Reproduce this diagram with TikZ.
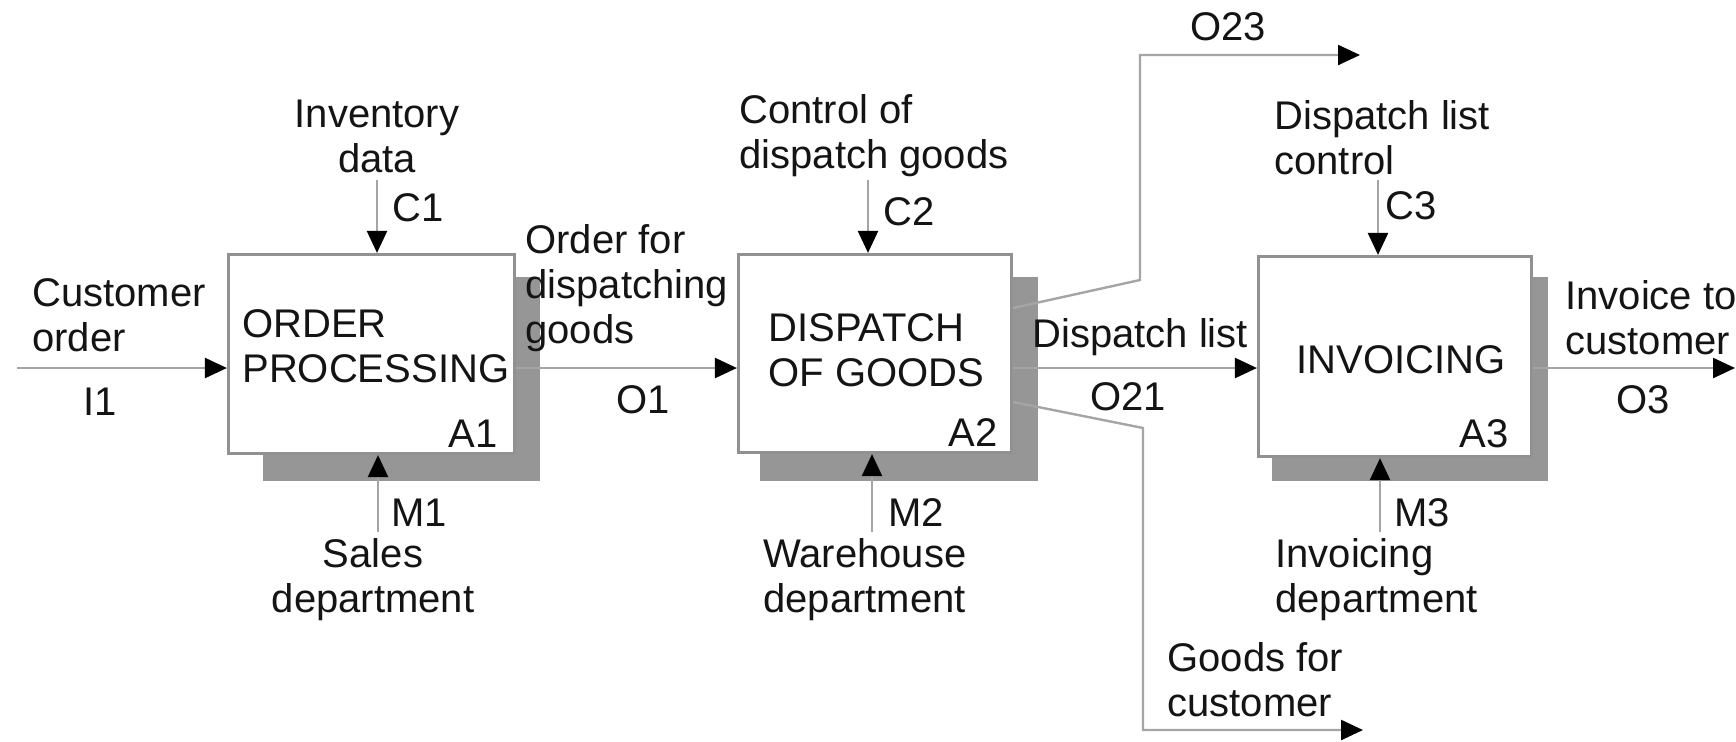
\documentclass[tikz,border=0pt]{standalone}
\usepackage{fontspec}
\setmainfont{Liberation Sans}
\usetikzlibrary{arrows.meta,calc}
\definecolor{linegray}{RGB}{165,165,165}
\definecolor{boxgray}{RGB}{145,145,145}
\definecolor{shadowgray}{RGB}{150,150,150}
\definecolor{textblack}{RGB}{20,20,20}
\begin{document}
\begin{tikzpicture}[x=0.5pt,y=-0.5pt,
  lbl/.style={inner sep=0pt, font=\fontsize{20}{22.5}\selectfont, text=textblack},
  lbll/.style={lbl, align=left},
  lblc/.style={lbl, align=center},
  actbox/.style={draw=boxgray, line width=1.6pt, fill=white, inner sep=0pt},
  shadowfill/.style={fill=shadowgray, draw=none},
  conn/.style={draw=linegray, line width=1.2pt, -{Triangle[length=11pt,width=10pt,color=black]}}
]
\fill[white] (0,0) rectangle (1736,741);
\useasboundingbox (0,0) rectangle (1736,741);

% shadows
\fill[shadowfill] (263,277) rectangle (540,481);
\fill[shadowfill] (760,277) rectangle (1038,481);
\fill[shadowfill] (1272,277) rectangle (1548,481);

% activity boxes
\node[actbox, minimum width=143pt, minimum height=99.5pt] (a1) at (371.5,354) {};
\node[actbox, minimum width=136.5pt, minimum height=99pt] (a2) at (875,353.5) {};
\node[actbox, minimum width=136.5pt, minimum height=100pt] (a3) at (1395,356.5) {};

% box texts
\node[lbll, anchor=west] (a1txt) at (242,346) {ORDER\\PROCESSING};
\node[lbl, anchor=east] (a1num) at (498,434) {A1};
\node[lbll, anchor=west] (a2txt) at (768,350) {DISPATCH\\OF GOODS};
\node[lbl, anchor=east] (a2num) at (998,433) {A2};
\node[lbl] (a3txt) at (1401,360) {INVOICING};
\node[lbl, anchor=east] (a3num) at (1509,434) {A3};

% coordinates of free ends and bends
\coordinate (i1s) at (17,368);
\coordinate (o3e) at (1735,368);
\coordinate (c1s) at (377,180);
\coordinate (c2s) at (868,180);
\coordinate (c3s) at (1378,180);
\coordinate (m1s) at (378,532);
\coordinate (m2s) at (872,532);
\coordinate (m3s) at (1380,532);
\coordinate (o23a) at (1013,308);
\coordinate (o23b) at (1140,280);
\coordinate (o23c) at (1140,55);
\coordinate (o23e) at (1360,55);
\coordinate (o22a) at (1013,402);
\coordinate (o22b) at (1143,428);
\coordinate (o22c) at (1143,730);
\coordinate (o22e) at (1363,730);

% connectors
\draw[conn] (i1s) -- (i1s -| a1.west);
\draw[conn] (a1.east |- i1s) -- (a2.west |- i1s);
\draw[conn] (a2.east |- i1s) -- (a3.west |- i1s);
\draw[conn] (a3.east |- i1s) -- (o3e);
\draw[conn] (c1s) -- (c1s |- a1.north);
\draw[conn] (c2s) -- (c2s |- a2.north);
\draw[conn] (c3s) -- (c3s |- a3.north);
\draw[conn] (m1s) -- (m1s |- a1.south);
\draw[conn] (m2s) -- (m2s |- a2.south);
\draw[conn] (m3s) -- (m3s |- a3.south);
\draw[conn] (a2.east |- o23a) -- (o23b) -- (o23c) -- (o23e);
\draw[conn] (a2.east |- o22a) -- (o22b) -- (o22c) -- (o22e);

% labels
\node[lbll, anchor=west] (tcust) at (32,315) {Customer\\order};
\node[lblc] (ti1) at (100,402) {I1};
\node[lblc] (tinv) at (377,136) {Inventory\\data};
\node[lblc] (tc1) at (418,208) {C1};
\node[lblc] (tm1) at (419,513) {M1};
\node[lblc] (tsales) at (373,580) {Sales\\department};
\node[lbll, anchor=west] (tofd) at (525,288) {Order for\\dispatching\\goods};
\node[lblc] (to1) at (643,400) {O1};
\node[lbll, anchor=west] (tctrl) at (739,136) {Control of\\dispatch goods};
\node[lblc] (tc2) at (909,212) {C2};
\node[lblc] (tm2) at (916,513) {M2};
\node[lbll, anchor=west] (twh) at (763,580) {Warehouse\\department};
\node[lblc] (to23) at (1228,27) {O23};
\node[lbl, anchor=west] (tdl) at (1032,337) {Dispatch list};
\node[lblc] (to21) at (1128,397) {O21};
\node[lbll, anchor=west] (tgfc) at (1167,680) {Goods for\\customer};
\node[lbll, anchor=west] (tdlc) at (1274,138) {Dispatch list\\control};
\node[lblc] (tc3) at (1411,206) {C3};
\node[lblc] (tm3) at (1422,513) {M3};
\node[lbll, anchor=west] (tinvd) at (1275,580) {Invoicing\\department};
\node[lbll, anchor=west] (titc) at (1565,318) {Invoice to\\customer};
\node[lblc] (to3) at (1643,400) {O3};
\end{tikzpicture}
\end{document}
